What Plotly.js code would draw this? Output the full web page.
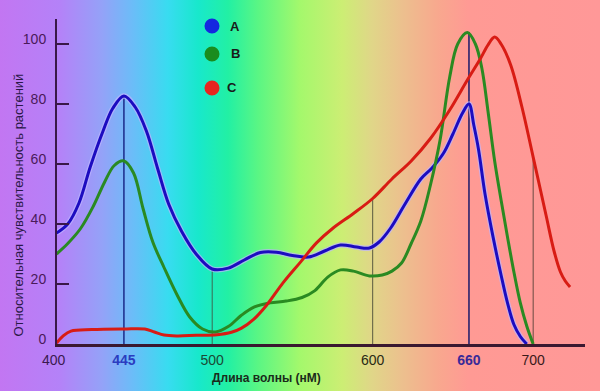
<!DOCTYPE html>
<html>
<head>
<meta charset="utf-8">
<script src="https://cdn.plot.ly/plotly-3.0.1.min.js"></script>
<style>
  html, body { margin:0; padding:0; }
  body {
    width:600px; height:391px; overflow:hidden;
    background: linear-gradient(to right,
      #c276f2 0%, #b482f8 10%, #94a2f8 17%, #6cbcf8 22%, #38dcf0 28%,
      #18e8cc 33%, #22f0a4 38%, #5af684 43%, #a4f86c 50%, #ccee74 57%,
      #e0d688 62%, #ecc08e 67%, #f8a88e 73%, #ff9a94 78%, #ff9898 100%);
  }
  #chart { width:600px; height:391px; }
</style>
</head>
<body>
<div id="chart"></div>
<script>
// ---- data (wavelength in nm, relative sensitivity) ----
var aX = [403,410,417,424,432,438,445,452,459,466,473,481,490,500,510,520,530,540,550,560,570,580,590,598,604,611,620,630,637,644,650,656,660,663,666,670,675,680,684,688,692,696];
var aY = [37,40,47,59,71,78.5,82.7,79,71,58.5,46.5,37.5,30,25,25.3,28,30.5,30.6,29.5,29,31,33,32.3,32,34,38.5,46.5,55,58.7,63.5,70,77,80,73,64.7,50,35.7,23,13.7,6.5,2.5,0];

var bX = [403,410,418,426,433,439,445,451,457,463,470,478,486,494,502,510,518,526,536,546,556,564,572,580,588,598,606,612,618,624,630,636,642,648,653,659,664,668,672,676,680,684,688,692,696,700];
var bY = [30,33.5,38.5,46,54,59.5,61,57,45,34,25.5,16.5,9,5,4,5.8,9.5,12.3,13.7,14.3,15.5,17.8,22.3,24.7,24.3,22.7,23,24.3,27,33.5,41,53,68,89,100,103.8,100,92,77,61,48,35.7,24,13.7,6,0];

var cX = [403,407,412,425,445,458,464,470,478,490,503,512,518,526,534,544,555,565,575,588,600,612,624,636,648,659,667,672,676,680,686,693,700,708,713,717,720,723];
var cY = [0.3,2.6,4.3,4.8,5,5,4,3,2.7,2.9,3.1,3.9,5.2,8.3,13,20.3,27.3,33.7,38.5,43.5,48.5,55,61,68.5,78,88,95,99.8,102.3,100,93,79,62.3,43,31,24,21,19];

var seriesNames = ['A', 'B', 'C'];
var seriesColors = ['#1c0cc0', '#2a8a22', '#d81c14'];
var legendDotColors = ['#1428e0', '#1a8c1e', '#e8261e'];

// vertical reference lines (wavelength, height reached)
var markX = [445, 500, 600, 660, 700];
var markTop = [82.7, 25, 48.5, 104, 62.3];
var markColors = ['#1a2a8a', '#3a6a50', '#5a5a40', '#1a1a6a', '#6a4a40'];
var markWidths = [1.5, 1, 1, 1.5, 1];

var xTickVals = [445, 500, 600, 660, 700];
var xTickText = [
  "<span style='color:#2a3cc0'><b>445</b></span>",
  "<span style='color:#1a4a34'>500</span>",
  "<span style='color:#2a2a14'>600</span>",
  "<span style='color:#3a2a98'><b>660</b></span>",
  "<span style='color:#3a1a1a'>700</span>"
];
var yTickVals = [0, 20, 40, 60, 80, 100];

// ---- layout geometry ----
var W = 600, H = 391, ML = 57, MR = 15, MT = 19, MB = 47;
var PW = W - ML - MR, PH = H - MT - MB;
function px(x) { return (x - ML) / PW; }
function py(y) { return (H - MB - y) / PH; }

var xs = [aX, bX, cX], ys = [aY, bY, cY];
var traces = [];
// light halo under blue line
traces.push({x: aX, y: aY, mode: 'lines', line: {color: 'rgba(190,180,255,0.7)', width: 5.5, shape: 'spline', smoothing: 1}, hoverinfo: 'skip', showlegend: false});
for (var i = 0; i < 3; i++) {
  traces.push({x: xs[i], y: ys[i], name: seriesNames[i], mode: 'lines',
    line: {color: seriesColors[i], width: 3, shape: 'spline', smoothing: 1}, showlegend: false});
}

var shapes = [];
for (var k = 0; k < markX.length; k++) {
  shapes.push({type: 'line', xref: 'x', yref: 'y', x0: markX[k], x1: markX[k], y0: 0, y1: markTop[k],
    line: {color: markColors[k], width: markWidths[k]}, layer: 'below'});
}
var legendPos = [[212, 26, 235, 27], [212, 54, 235, 54], [212, 88, 232, 87]];
var annotations = [];
for (var j = 0; j < 3; j++) {
  shapes.push({type: 'circle', xref: 'paper', yref: 'paper', xsizemode: 'pixel', ysizemode: 'pixel',
    xanchor: px(legendPos[j][0]), yanchor: py(legendPos[j][1]), x0: -7.5, x1: 7.5, y0: -7.5, y1: 7.5,
    fillcolor: legendDotColors[j], line: {width: 0}});
  annotations.push({xref: 'paper', yref: 'paper', x: px(legendPos[j][2]), y: py(legendPos[j][3]),
    text: '<b>' + seriesNames[j] + '</b>', showarrow: false, xanchor: 'center', yanchor: 'middle',
    font: {family: 'Liberation Sans, Arial, sans-serif', size: 13, color: '#1a1a1a'}});
}
// "400" label at the left corner
annotations.push({xref: 'paper', yref: 'paper', x: px(53.6), y: py(360), text: '400', showarrow: false,
  xanchor: 'center', yanchor: 'middle', font: {family: 'Liberation Sans, Arial, sans-serif', size: 14, color: '#3a1a50'}});
// axis titles
annotations.push({xref: 'paper', yref: 'paper', x: px(266), y: py(378), text: '<b>Длина волны (нМ)</b>', showarrow: false,
  xanchor: 'center', yanchor: 'middle', font: {family: 'Liberation Sans, Arial, sans-serif', size: 12, color: '#1a2a1a'}});
annotations.push({xref: 'paper', yref: 'paper', x: px(17.5), y: py(205), text: 'Относительная чувствительность растений', showarrow: false,
  textangle: -90, xanchor: 'center', yanchor: 'middle', font: {family: 'Liberation Sans, Arial, sans-serif', size: 13, color: '#2a1848'}});

var layout = {
  width: W, height: H,
  margin: {l: ML, r: MR, t: MT, b: MB, pad: 0},
  paper_bgcolor: 'rgba(0,0,0,0)', plot_bgcolor: 'rgba(0,0,0,0)',
  showlegend: false,
  xaxis: {range: [403.3, 732.3], showline: true, linecolor: '#3a1830', linewidth: 2.5, mirror: false,
    tickvals: xTickVals, ticktext: xTickText, ticks: '', showgrid: false, zeroline: false,
    ticklabelstandoff: 2,
    tickfont: {family: 'Liberation Sans, Arial, sans-serif', size: 14}},
  yaxis: {range: [0, 108.33], showline: true, linecolor: '#3a1848', linewidth: 2,
    tickvals: yTickVals, ticks: 'inside', ticklen: 12, tickwidth: 2, tickcolor: '#3a1848',
    showgrid: false, zeroline: false, ticklabelstandoff: 6, ticklabelshift: -5,
    tickfont: {family: 'Liberation Sans, Arial, sans-serif', size: 14, color: '#4a1a5a'}},
  shapes: shapes,
  annotations: annotations
};

Plotly.newPlot('chart', traces, layout, {displayModeBar: false, staticPlot: true});
</script>
</body>
</html>
